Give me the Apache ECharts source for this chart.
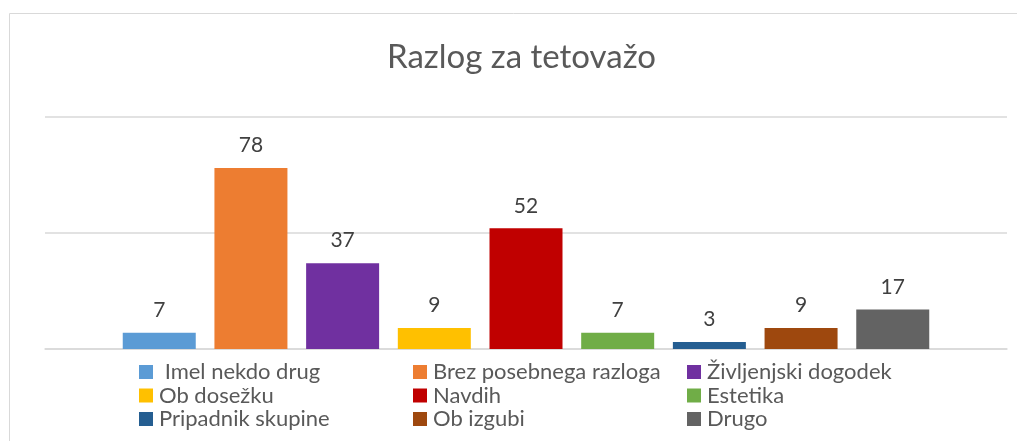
<!DOCTYPE html>
<html>
<head>
<meta charset="utf-8">
<script src="https://cdn.jsdelivr.net/npm/echarts@6/dist/echarts.min.js"></script>
<style>
  html, body { margin: 0; padding: 0; background: #fff; }
  #chart { width: 1017px; height: 441px; }
</style>
</head>
<body>
<div id="chart"></div>
<script>
const reasons = [
  "Imel nekdo drug", "Brez posebnega razloga", "Življenjski dogodek",
  "Ob dosežku", "Navdih", "Estetika",
  "Pripadnik skupine", "Ob izgubi", "Drugo",
];
const counts = [7, 78, 37, 9, 52, 7, 3, 9, 17];
const colors = [
  "#5b9bd5", "#ed7d31", "#7030a0",
  "#ffc000", "#c00000", "#70ad47",
  "#255e91", "#9e480e", "#636363",
];
const legendColumns = [
  [reasons[0], reasons[3], reasons[6]],
  [reasons[1], reasons[4], reasons[7]],
  [reasons[2], reasons[5], reasons[8]],
];
const legendLeft = [139, 413, 687];

const FONT = "Lato, 'Open Sans', sans-serif";
const chart = echarts.init(document.getElementById("chart"), null, { renderer: "canvas" });

chart.setOption({
  animation: false,
  textStyle: { fontFamily: FONT },
  graphic: [
    {
      type: "rect",
      left: 7,
      top: 11,
      shape: { width: 1030, height: 450 },
      style: { fill: "none", stroke: "#d9d9d9", lineWidth: 1 },
      silent: true,
    },
  ],
  title: {
    text: "Razlog za tetovažo",
    left: 382,
    top: 36,
    textStyle: { fontFamily: FONT, fontSize: 33, fontWeight: "normal", color: "#595959" },
  },
  legend: legendColumns.map((names, i) => ({
    orient: "vertical",
    left: legendLeft[i],
    top: 361,
    data: names,
    itemWidth: 14,
    itemHeight: 14,
    itemGap: 1.5,
    icon: "rect",
    padding: 0,
    selectedMode: false,
    formatter: (n) => (n === reasons[0] ? " " + n : n),
    textStyle: { fontFamily: FONT, fontSize: 22, lineHeight: 22, color: "#595959", padding: [0, 0, 0, 1] },
  })),
  grid: { left: 45, right: 10, top: 117, bottom: 92 },
  xAxis: {
    type: "category",
    data: [""],
    axisLine: { lineStyle: { color: "#d9d9d9", width: 1.5 } },
    axisTick: { show: false },
    axisLabel: { show: false },
  },
  yAxis: {
    type: "value",
    min: 0,
    max: 100,
    interval: 50,
    axisLabel: { show: false },
    axisLine: { show: false },
    axisTick: { show: false },
    splitLine: { lineStyle: { color: "#d9d9d9", width: 1.5 } },
  },
  series: reasons.map((name, i) => ({
    type: "bar",
    name,
    data: [counts[i]],
    barWidth: 73,
    barGap: "25.6%",
    itemStyle: { color: colors[i] },
    label: {
      show: true,
      position: "top",
      distance: 12,
      fontFamily: FONT,
      fontSize: 21,
      color: "#404040",
    },
  })),
});
</script>
</body>
</html>
